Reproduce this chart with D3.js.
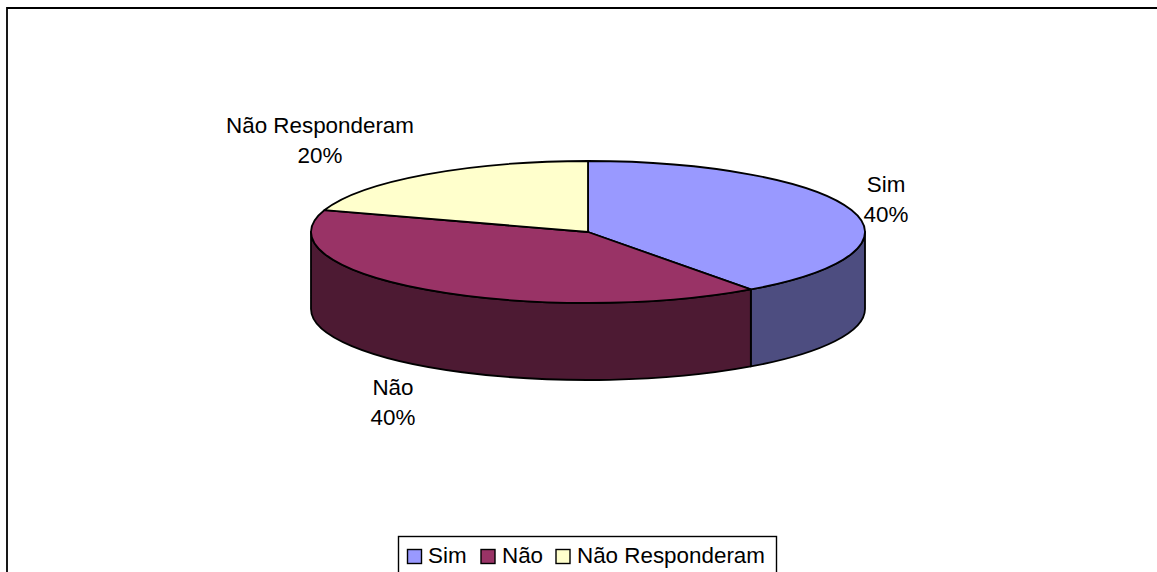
<!DOCTYPE html>
<html><head><meta charset="utf-8">
<script src="https://cdnjs.cloudflare.com/ajax/libs/d3/7.8.5/d3.min.js"></script>
<style>html,body{margin:0;padding:0;background:#fff;overflow:hidden}svg{display:block}
text{font-family:"Liberation Sans",Arial,sans-serif;fill:#000}</style></head><body>
<script>
const categories = ["Sim", "Não", "Não Responderam"];
const values = [40, 40, 20];
const topColors = ["#9999ff", "#993366", "#ffffcc"];
const sideColors = ["#4d4d80", "#4d1a33", "#808066"];

const W = 1157, H = 572;
const svg = d3.select("body").append("svg").attr("width", W).attr("height", H);

// frame: left and top edges only are in view
svg.append("path").attr("d", `M7 ${H} V8 H${W}`)
  .attr("fill", "none").attr("stroke", "#000").attr("stroke-width", 1.8);

const cx = 588, cy = 232, rx = 277, ry = 71, depth = 77;
const sx = d3.scaleLinear().domain([-1, 1]).range([cx - rx, cx + rx]);
const sy = d3.scaleLinear().domain([-1, 1]).range([cy - ry, cy + ry]);
const pt = (t, dy = 0) => [sx(Math.sin(t)), sy(-Math.cos(t)) + dy];

const pie = d3.pie().sort(null).value(d => d);
const arcs = pie(values);
const lbl = (t, dy = 0) => pt(t, dy).map(v => v.toFixed(2)).join(" ");
const PI = Math.PI;
const SW = 1.8;

// side walls: only the front half of the rim (from 90deg to 270deg) shows
const sides = svg.append("g");
arcs.forEach((a, i) => {
  const s = Math.max(a.startAngle, PI / 2), e = Math.min(a.endAngle, 3 * PI / 2);
  if (e <= s) return;
  sides.append("path")
    .attr("d", `M${lbl(s)} A${rx} ${ry} 0 0 1 ${lbl(e)} L${lbl(e, depth)} A${rx} ${ry} 0 0 0 ${lbl(s, depth)} Z`)
    .attr("fill", sideColors[i]).attr("stroke", "#000").attr("stroke-width", SW).attr("stroke-linejoin", "round");
});

// top face
const tops = svg.append("g");
arcs.forEach((a, i) => {
  const large = a.endAngle - a.startAngle > PI ? 1 : 0;
  tops.append("path")
    .attr("d", `M${cx} ${cy} L${lbl(a.startAngle)} A${rx} ${ry} 0 ${large} 1 ${lbl(a.endAngle)} Z`)
    .attr("fill", topColors[i]).attr("stroke", "#000").attr("stroke-width", SW).attr("stroke-linejoin", "round");
});

// data labels
const labelPos = [[886, 192], [393, 395], [320, 133]];
const labels = svg.append("g").attr("font-size", 22.4).attr("text-anchor", "middle");
categories.forEach((c, i) => {
  const g = labels.append("text").attr("x", labelPos[i][0]).attr("y", labelPos[i][1]);
  g.append("tspan").attr("x", labelPos[i][0]).text(c);
  g.append("tspan").attr("x", labelPos[i][0]).attr("dy", 29.5).text(values[i] + "%");
});

// legend
svg.append("rect").attr("x", 398.5).attr("y", 536.5).attr("width", 378).attr("height", 60)
  .attr("fill", "#fff").attr("stroke", "#000").attr("stroke-width", 1.4);
const legendSwatchX = [407, 480.5, 555.5], legendTextX = [428, 502, 577];
categories.forEach((c, i) => {
  svg.append("rect").attr("x", legendSwatchX[i] + .5).attr("y", 549.5).attr("width", 14).attr("height", 14)
    .attr("fill", topColors[i]).attr("stroke", "#000").attr("stroke-width", 1.4);
  svg.append("text").attr("x", legendTextX[i]).attr("y", 563).attr("font-size", 22.4).text(c);
});
</script></body></html>
